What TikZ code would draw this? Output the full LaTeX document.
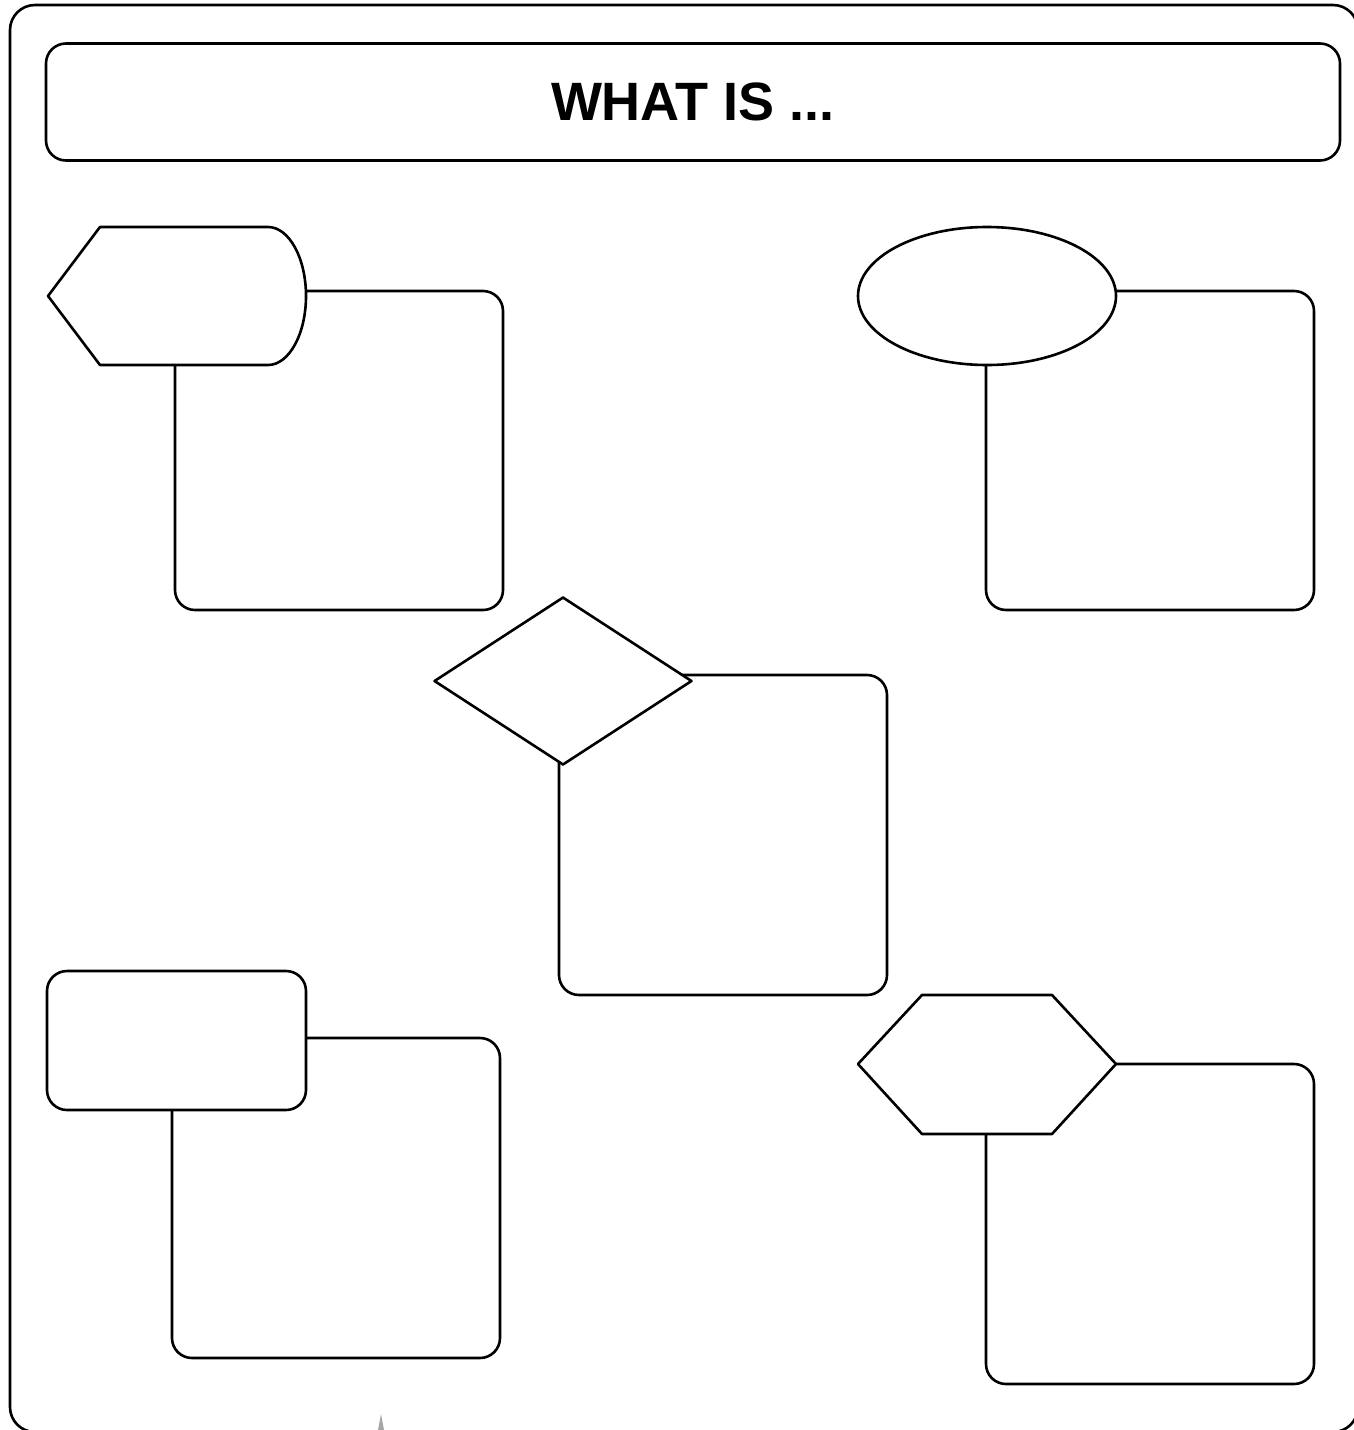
\documentclass[tikz,border=0pt]{standalone}
\usepackage{fontspec}
\setmainfont{Liberation Sans}
\usetikzlibrary{shapes.geometric}
\tikzset{
  ln/.style={line width=2.6pt, draw=black, line join=round},
  bigbox/.style={ln, rounded corners=20pt, minimum width=328pt, minimum height=320pt, inner sep=0pt, fill=white},
  headshape/.style={ln, fill=white, inner sep=0pt, minimum width=258pt, minimum height=138pt},
}
\begin{document}
\begin{tikzpicture}[x=1pt,y=-1pt]
\useasboundingbox (0,0) rectangle (1354,1430);
% outer frame
\draw[ln, rounded corners=25pt] (10,5) rectangle (1358,1432);
% title
\node[ln, rounded corners=20pt, minimum width=1294pt, minimum height=117pt, inner sep=0pt,
      font=\bfseries\fontsize{54}{62}\selectfont] (title) at (693,102) {WHAT IS ...};
% big boxes
\node[bigbox, minimum height=319pt] (b1) at (339,450.5) {};
\node[bigbox, minimum height=319pt] (b2) at (1150,450.5) {};
\node[bigbox] (b3) at (723,835) {};
\node[bigbox] (b4) at (336,1198) {};
\node[bigbox] (b5) at (1150,1224) {};
% shape 1: display shape
\coordinate (s1) at (177,296);
\draw[ln, fill=white] (48,296) -- (100,227) -- (268,227)
  .. controls (289,227) and (306,258) .. (306,296)
  .. controls (306,334) and (289,365) .. (268,365) -- (100,365) -- cycle;
% shape 2: ellipse
\node[headshape, ellipse] (s2) at (987,296) {};
% shape 3: diamond
\node[headshape, diamond, minimum height=168pt] (s3) at (563,681) {};
% shape 4: rounded rectangle
\node[headshape, rounded corners=20pt, minimum width=259pt, minimum height=139pt] (s4) at (176.5,1040.5) {};
% shape 5: hexagon
\coordinate (s5) at (987,1064);
\draw[ln, fill=white] (858,1064) -- (922,995) -- (1052,995) -- (1116,1064) -- (1052,1134) -- (922,1134) -- cycle;
% small grey mark at the bottom
\fill[gray!70] (378,1430) -- (381,1414) -- (384,1430) -- cycle;
\end{tikzpicture}
\end{document}
